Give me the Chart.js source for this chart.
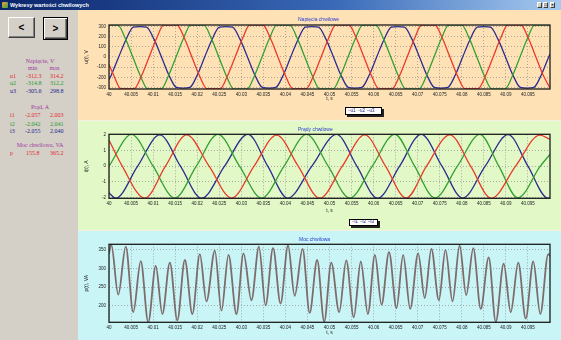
<!DOCTYPE html>
<html>
<head>
<meta charset="utf-8">
<script src="https://cdn.jsdelivr.net/npm/chart.js@4.4.1/dist/chart.umd.min.js"></script>
<style>
  html, body { margin: 0; padding: 0; }
  body { width: 561px; height: 340px; overflow: hidden; position: relative; background: #d4d0c8; font-family: Arial, "Liberation Sans", sans-serif; }
  .abs { position: absolute; }
  #bar { left: 0; top: 0; width: 561px; height: 10px; background: linear-gradient(to right, #0a246a, #3a6ab8 60%, #a6caf0); }
  #bar .t { left: 10px; top: 0; font: bold 5.5px/10px Arial, sans-serif; color: #fff; white-space: nowrap; }
  #bar .ico { left: 2px; top: 2px; width: 6px; height: 6px; background: linear-gradient(135deg, #e8a040, #40a040); border-radius: 1px; }
  .wb { top: 2px; width: 5px; height: 6px; background: #d4d0c8; border: 1px solid; border-color: #fff #404040 #404040 #fff; box-sizing: border-box; font: bold 4px/4px Arial; color: #000; text-align: center; }
  .btn { background: #d4d0c8; box-sizing: border-box; font: bold 10px/1 Arial, sans-serif; color: #000; display: flex; align-items: center; justify-content: center; }
  #b1 { left: 8px; top: 17px; width: 27px; height: 21px; border: 1px solid; border-color: #fff #404040 #404040 #fff; box-shadow: inset -1px -1px #808080; }
  #b2 { left: 43px; top: 17px; width: 25px; height: 23px; border: 1px solid #000; box-shadow: inset 1px 1px #fff, inset -1px -1px #404040, inset -2px -2px #808080; }
  .tx { font: 6px/7px "Liberation Serif", "Times New Roman", serif; white-space: nowrap; }
  .hd { color: #a03aa0; left: 0; width: 80px; text-align: center; }
  .r { color: #e02828; } .g { color: #1f9a2a; } .b { color: #1e1e8c; } .m { color: #a03aa0; }
  .panel { left: 78px; width: 483px; }
  #p1 { top: 10px; height: 110px; background: #fee2b6; }
  #p2 { top: 121px; height: 109px; background: #e2f8c6; }
  #p3 { top: 231px; height: 109px; background: #c9f5f6; }
  .sep { left: 78px; width: 483px; height: 1px; background: #f3efe2; }
  canvas { position: absolute; }
  .ct { font: 5px/6px Arial, sans-serif; color: #2a3ad0; white-space: nowrap; }
  .lg { background: #fff; border: 1px solid #000; box-shadow: 2px 2px 0 #222; box-sizing: border-box; font: 4.5px/1 Arial, sans-serif; color: #20207a; display: flex; align-items: center; padding-left: 2px; gap: 2px; white-space: nowrap; }
</style>
</head>
<body>
<div id="bar" class="abs">
  <div class="abs ico"></div>
  <div class="abs t">Wykresy wartości chwilowych</div>
  <div class="abs wb" style="left:537px">_</div>
  <div class="abs wb" style="left:543px">□</div>
  <div class="abs wb" style="left:550px">×</div>
</div>

<div id="b1" class="abs btn">&lt;</div>
<div id="b2" class="abs btn">&gt;</div>

<div class="abs tx hd" style="top:57.5px">Napięcie, V</div>
<div class="abs tx m" style="left:28px;top:64.5px">min</div>
<div class="abs tx m" style="left:49.5px;top:64.5px">max</div>
<div class="abs tx r" style="left:10px;top:72.5px">u1</div>
<div class="abs tx r" style="left:26px;top:72.5px">-312.3</div>
<div class="abs tx r" style="left:50px;top:72.5px">314.2</div>
<div class="abs tx g" style="left:10px;top:80px">u2</div>
<div class="abs tx g" style="left:26px;top:80px">-314.8</div>
<div class="abs tx g" style="left:50px;top:80px">312.2</div>
<div class="abs tx b" style="left:10px;top:87.5px">u3</div>
<div class="abs tx b" style="left:26px;top:87.5px">-305.6</div>
<div class="abs tx b" style="left:50px;top:87.5px">298.8</div>

<div class="abs tx hd" style="top:103.5px">Prąd, A</div>
<div class="abs tx r" style="left:10px;top:112px">i1</div>
<div class="abs tx r" style="left:25px;top:112px">-2.057</div>
<div class="abs tx r" style="left:50px;top:112px">2.003</div>
<div class="abs tx g" style="left:10px;top:120.5px">i2</div>
<div class="abs tx g" style="left:25px;top:120.5px">-2.042</div>
<div class="abs tx g" style="left:50px;top:120.5px">2.041</div>
<div class="abs tx b" style="left:10px;top:127.5px">i3</div>
<div class="abs tx b" style="left:25px;top:127.5px">-2.055</div>
<div class="abs tx b" style="left:50px;top:127.5px">2.040</div>

<div class="abs tx hd" style="top:141.5px">Moc chwilowa, VA</div>
<div class="abs tx r" style="left:10px;top:150px">p</div>
<div class="abs tx r" style="left:26px;top:150px">155.8</div>
<div class="abs tx r" style="left:50px;top:150px">365.2</div>

<div id="p1" class="abs panel"></div>
<div class="abs sep" style="top:120px"></div>
<div id="p2" class="abs panel"></div>
<div class="abs sep" style="top:230px"></div>
<div id="p3" class="abs panel"></div>

<canvas id="c1" width="483" height="100" style="left:78px;top:10px"></canvas>
<canvas id="c2" width="483" height="100" style="left:78px;top:121px"></canvas>
<canvas id="c3" width="483" height="109" style="left:78px;top:231px"></canvas>

<div class="abs ct" style="left:298px;top:16px">Napięcia chwilowe</div>
<div class="abs ct" style="left:298px;top:126px">Prądy chwilowe</div>
<div class="abs ct" style="left:299px;top:236px">Moc chwilowa</div>

<div class="abs lg" style="left:345px;top:107px;width:37px;height:8px">
  <span><span class="r">–</span>u1</span><span><span class="g">–</span>u2</span><span><span class="b">–</span>u3</span>
</div>
<div class="abs lg" style="left:349px;top:219px;width:29px;height:7px">
  <span><span class="r">–</span>i1</span><span><span class="g">–</span>i2</span><span><span class="b">–</span>i3</span>
</div>

<script>
  // Axis ticks
  const xTicks = [40, 40.005, 40.01, 40.015, 40.02, 40.025, 40.03, 40.035, 40.04, 40.045,
    40.05, 40.055, 40.06, 40.065, 40.07, 40.075, 40.08, 40.085, 40.09, 40.095];
  const uTicks = [-300, -200, -100, 0, 100, 200, 300];
  const iTicks = [-2, -1, 0, 1, 2];
  const pTicks = [200, 250, 300, 350];

  // Voltages [t, V]
  const u1 = [[40.0000,-75],[40.0011,-183],[40.0027,-312.3],[40.0057,-312.3],[40.0074,-183],[40.0091,0],[40.0108,184],
    [40.0124,314.2],[40.0154,314.2],[40.0171,184],[40.0188,0],[40.0205,-183],[40.0222,-312.3],[40.0252,-312.3],
    [40.0269,-183],[40.0286,0],[40.0303,184],[40.0319,314.2],[40.0349,314.2],[40.0366,184],[40.0383,0],[40.0400,-183],
    [40.0417,-312.3],[40.0447,-312.3],[40.0464,-183],[40.0481,0],[40.0498,184],[40.0514,314.2],[40.0544,314.2],
    [40.0561,184],[40.0578,0],[40.0595,-183],[40.0612,-312.3],[40.0642,-312.3],[40.0659,-183],[40.0676,0],[40.0693,184],
    [40.0709,314.2],[40.0739,314.2],[40.0756,184],[40.0773,0],[40.0790,-183],[40.0807,-312.3],[40.0837,-312.3],
    [40.0854,-183],[40.0871,0],[40.0888,184],[40.0904,314.2],[40.0934,314.2],[40.0951,184],[40.0968,0],[40.0985,-183],
    [40.1000,-305]];
  const u2 = [[40.0000,312.2],[40.0020,312.2],[40.0037,183],[40.0054,0],[40.0071,-184],[40.0088,-314.8],[40.0118,-314.8],
    [40.0135,-184],[40.0152,0],[40.0169,183],[40.0185,312.2],[40.0215,312.2],[40.0232,183],[40.0249,0],[40.0266,-184],
    [40.0283,-314.8],[40.0313,-314.8],[40.0330,-184],[40.0347,0],[40.0364,183],[40.0380,312.2],[40.0410,312.2],
    [40.0427,183],[40.0444,0],[40.0461,-184],[40.0478,-314.8],[40.0508,-314.8],[40.0525,-184],[40.0542,0],[40.0559,183],
    [40.0575,312.2],[40.0605,312.2],[40.0622,183],[40.0639,0],[40.0656,-184],[40.0673,-314.8],[40.0703,-314.8],
    [40.0720,-184],[40.0737,0],[40.0754,183],[40.0770,312.2],[40.0800,312.2],[40.0817,183],[40.0834,0],[40.0851,-184],
    [40.0868,-314.8],[40.0898,-314.8],[40.0915,-184],[40.0932,0],[40.0949,183],[40.0965,312.2],[40.0995,312.2],
    [40.1000,308]];
  const u3 = [[40.0000,-222],[40.0005,-179],[40.0022,0],[40.0039,175],[40.0055,294],[40.0070,298.8],[40.0085,294],
    [40.0102,175],[40.0119,0],[40.0136,-179],[40.0153,-300],[40.0168,-305.6],[40.0183,-300],[40.0200,-179],[40.0217,0],
    [40.0234,175],[40.0250,294],[40.0265,298.8],[40.0280,294],[40.0297,175],[40.0314,0],[40.0331,-179],[40.0348,-300],
    [40.0363,-305.6],[40.0378,-300],[40.0395,-179],[40.0412,0],[40.0429,175],[40.0445,294],[40.0460,298.8],[40.0475,294],
    [40.0492,175],[40.0509,0],[40.0526,-179],[40.0543,-300],[40.0558,-305.6],[40.0573,-300],[40.0590,-179],[40.0607,0],
    [40.0624,175],[40.0640,294],[40.0655,298.8],[40.0670,294],[40.0687,175],[40.0704,0],[40.0721,-179],[40.0738,-300],
    [40.0753,-305.6],[40.0768,-300],[40.0785,-179],[40.0802,0],[40.0819,175],[40.0835,294],[40.0850,298.8],[40.0865,294],
    [40.0882,175],[40.0899,0],[40.0916,-179],[40.0933,-300],[40.0948,-305.6],[40.0963,-300],[40.0980,-179],[40.0997,0],
    [40.1000,30]];

  // Currents [t, A]
  const i1 = [[40.0000,1.67],[40.0030,0],[40.0081,-2.05],[40.0128,0],[40.0176,2.0],[40.0227,0],[40.0278,-2.04],
    [40.0329,0],[40.0380,1.99],[40.0429,0],[40.0478,-2.05],[40.0529,0],[40.0580,2.0],[40.0627,0],[40.0674,-2.04],
    [40.0720,0],[40.0773,2.003],[40.0820,0],[40.0867,-2.057],[40.0922,0],[40.0977,1.99],[40.1000,1.72]];
  const i2 = [[40.0000,0],[40.0051,2.03],[40.0100,0],[40.0149,-2.04],[40.0198,0],[40.0247,2.04],[40.0296,0],
    [40.0346,-2.04],[40.0397,0],[40.0448,2.03],[40.0497,0],[40.0546,-2.042],[40.0597,0],[40.0648,2.041],[40.0693,0],
    [40.0739,-2.03],[40.0790,0],[40.0841,2.03],[40.0884,0],[40.0927,-2.03],[40.0978,0],[40.1000,0.75]];
  const i3 = [[40.0000,-1.7],[40.0015,-2.05],[40.0065,0],[40.0115,2.0],[40.0162,0],[40.0210,-2.05],[40.0262,0],
    [40.0315,2.04],[40.0360,0],[40.0405,-2.05],[40.0460,0],[40.0516,2.03],[40.0562,0],[40.0609,-2.055],[40.0659,0],
    [40.0708,2.04],[40.0755,0],[40.0802,-2.04],[40.0853,0],[40.0905,2.02],[40.0950,0],[40.0995,-2.04],[40.1000,-2.02]];

  // Power [t, VA], peaks and troughs
  const p = [[40.0000,340],[40.0005,365.2],[40.0021,230],[40.0038,359],[40.0055,183],[40.0072,320],[40.0089,155.8],
    [40.0106,307],[40.0121,178],[40.0138,316],[40.0155,161],[40.0172,323],[40.0189,178],[40.0206,339],[40.0221,212],
    [40.0240,348],[40.0255,187],[40.0271,337],[40.0289,178],[40.0305,341],[40.0323,215],[40.0340,359],[40.0355,201],
    [40.0372,355],[40.0389,206],[40.0406,362],[40.0421,227],[40.0439,353],[40.0455,181],[40.0472,323],[40.0488,158],
    [40.0504,316],[40.0522,183],[40.0538,322],[40.0555,169],[40.0571,319],[40.0587,178],[40.0603,337],[40.0618,203],
    [40.0635,344],[40.0652,194],[40.0667,337],[40.0683,192],[40.0701,341],[40.0716,221],[40.0731,353],[40.0748,215],
    [40.0763,350],[40.0779,212],[40.0795,362],[40.0810,229],[40.0826,355],[40.0843,192],[40.0861,330],[40.0877,157],
    [40.0895,313],[40.0911,183],[40.0928,316],[40.0945,166],[40.0962,319],[40.0978,178],[40.0996,339],[40.1000,334]];

  const RED = '#ea3a2a', GREEN = '#34a034', BLUE = '#2c2c8e', GREY = '#7e6c6c';

  const tickFont = { family: 'Arial', size: 4.5 };
  const titleFont = { family: 'Arial', size: 5 };

  // dark frame round the plot area
  const frame = {
    id: 'frame',
    afterDatasetsDraw(chart) {
      const { ctx, chartArea: a } = chart;
      ctx.save();
      ctx.strokeStyle = '#1c1c1c';
      ctx.lineWidth = 1.3;
      ctx.strokeRect(a.left, a.top, a.right - a.left, a.bottom - a.top);
      ctx.restore();
    }
  };

  function xy(a) { return a.map(d => ({ x: d[0], y: d[1] })); }

  function makeChart(id, sets, o) {
    const h = document.getElementById(id).height;
    return new Chart(document.getElementById(id), {
      type: 'line',
      data: {
        datasets: sets.map(s => ({
          data: xy(s.data), borderColor: s.color, borderWidth: s.width || 1.3,
          pointRadius: 0, fill: false, cubicInterpolationMode: 'monotone'
        }))
      },
      options: {
        responsive: false,
        animation: false,
        layout: { padding: { left: 0, right: 11, top: o.top, bottom: 0 } },
        plugins: { legend: { display: false }, tooltip: { enabled: false } },
        scales: {
          x: {
            type: 'linear', min: 40, max: 40.1,
            afterBuildTicks: s => { s.ticks = xTicks.map(v => ({ value: v })); },
            afterFit: s => { s.height = h - o.bottom; },
            ticks: { font: tickFont, color: '#222', padding: 3, maxRotation: 0, autoSkip: false, callback: v => String(v) },
            grid: { color: '#8c8c8c', lineWidth: 0.7, drawTicks: false },
            border: { display: false, dash: [1, 2] },
            title: { display: true, text: 't, s', font: titleFont, color: '#222', padding: { top: 0, bottom: o.xPad } }
          },
          y: {
            type: 'linear', min: o.min, max: o.max,
            afterBuildTicks: s => { s.ticks = o.ticks.map(v => ({ value: v })); },
            afterFit: s => { s.width = 31; },
            ticks: { font: tickFont, color: '#222', padding: 3, callback: v => String(v) },
            grid: { color: '#8c8c8c', lineWidth: 0.7, drawTicks: false },
            border: { display: false, dash: [1, 2] },
            title: { display: true, text: o.yTitle, font: titleFont, color: '#222', padding: { top: 6, bottom: 0 } }
          }
        }
      },
      plugins: [frame]
    });
  }

  makeChart('c1', [
    { data: u1, color: RED }, { data: u2, color: GREEN }, { data: u3, color: BLUE }
  ], { top: 15, bottom: 79, xPad: 8, min: -314.8, max: 314.2, ticks: uTicks, yTitle: 'u(t), V' });

  makeChart('c2', [
    { data: i1, color: RED }, { data: i2, color: GREEN }, { data: i3, color: BLUE }
  ], { top: 13.3, bottom: 77.3, xPad: 7, min: -2.057, max: 2.041, ticks: iTicks, yTitle: 'i(t), A' });

  makeChart('c3', [
    { data: p, color: GREY, width: 1.8 }
  ], { top: 13.3, bottom: 91.3, xPad: 4, min: 155.8, max: 365.2, ticks: pTicks, yTitle: 'p(t), VA' });
</script>
</body>
</html>
